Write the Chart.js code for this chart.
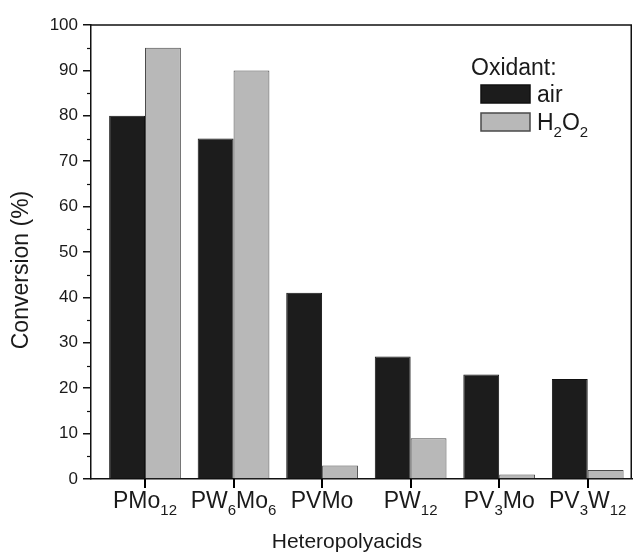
<!DOCTYPE html>
<html>
<head>
<meta charset="utf-8">
<script src="https://cdn.jsdelivr.net/npm/chart.js@4.4.0/dist/chart.umd.min.js"></script>
<style>
  html, body { margin: 0; padding: 0; background: #fff; }
  #wrap { width: 633px; height: 554px; }
</style>
</head>
<body>
<div id="wrap"><canvas id="chart"></canvas></div>
<script>
// Catalysts, each label split into [text, kind] pieces
const categories = [
  [["PMo", ""], ["12", "sub"]],
  [["PW", ""], ["6", "sub"], ["Mo", ""], ["6", "sub"]],
  [["PVMo", ""]],
  [["PW", ""], ["12", "sub"]],
  [["PV", ""], ["3", "sub"], ["Mo", ""]],
  [["PV", ""], ["3", "sub"], ["W", ""], ["12", "sub"]],
];
const airValues = [80, 75, 41, 27, 23, 22];
const h2o2Values = [95, 90, 3, 9, 1, 2];
const yTicksMajor = [0, 10, 20, 30, 40, 50, 60, 70, 80, 90, 100];
const yTicksMinor = [5, 15, 25, 35, 45, 55, 65, 75, 85, 95];
const xTitle = "Heteropolyacids";
const yTitle = "Conversion (%)";

const FONT = "'Liberation Sans', Arial, sans-serif";

// draws text pieces with subscripts
function drawRich(ctx, pieces, x, y, size, align) {
  const subSize = Math.round(size * 0.66);
  const widths = pieces.map(([t, k]) => {
    ctx.font = (k === "sub" ? subSize : size) + "px " + FONT;
    return ctx.measureText(t).width;
  });
  const total = widths.reduce((a, b) => a + b, 0);
  let cx = align === "left" ? x : x - total / 2;
  pieces.forEach(([t, k], i) => {
    ctx.font = (k === "sub" ? subSize : size) + "px " + FONT;
    ctx.fillText(t, cx, k === "sub" ? y + size * 0.3 : y);
    cx += widths[i];
  });
}

const extras = {
  id: "extras",
  afterDraw(chart) {
    const { ctx, chartArea } = chart;
    const x = chart.scales.x, y = chart.scales.y;
    ctx.save();
    ctx.fillStyle = "#1a1a1a";
    ctx.strokeStyle = "#111";
    ctx.textBaseline = "alphabetic";
    ctx.textAlign = "left";

    // minor y ticks
    ctx.lineWidth = 1.2;
    yTicksMinor.forEach(v => {
      const py = Math.round(y.getPixelForValue(v)) + 0.5;
      ctx.beginPath();
      ctx.moveTo(chartArea.left - 4, py);
      ctx.lineTo(chartArea.left, py);
      ctx.stroke();
    });

    // x tick marks, pointing down
    ctx.fillStyle = "#000";
    categories.forEach((c, i) => {
      const px = Math.round(x.getPixelForValue(i));
      ctx.fillRect(px - 1, chartArea.bottom, 2, 9);
    });
    ctx.fillStyle = "#1a1a1a";

    // frame top and right
    ctx.lineWidth = 1.5;
    ctx.beginPath();
    ctx.moveTo(chartArea.left, chartArea.top);
    ctx.lineTo(chartArea.right - 0.75, chartArea.top);
    ctx.lineTo(chartArea.right - 0.75, chartArea.bottom);
    ctx.stroke();

    // category labels
    categories.forEach((pieces, i) => {
      drawRich(ctx, pieces, x.getPixelForValue(i), 508, 23, "center");
    });

    // axis titles
    ctx.textAlign = "center";
    ctx.font = "21px " + FONT;
    ctx.fillText(xTitle, 347, 548);
    ctx.save();
    ctx.translate(28, 270);
    ctx.rotate(-Math.PI / 2);
    ctx.font = "23px " + FONT;
    ctx.fillText(yTitle, 0, 0);
    ctx.restore();
    ctx.textAlign = "left";

    // legend
    const ds = chart.data.datasets;
    ctx.font = "23px " + FONT;
    ctx.fillText("Oxidant:", 471, 75);
    [[ds[0], 85, [["air", ""]]], [ds[1], 113, [["H", ""], ["2", "sub"], ["O", ""], ["2", "sub"]]]]
      .forEach(([d, top, label]) => {
        ctx.fillStyle = d.backgroundColor;
        ctx.fillRect(481, top, 49, 18);
        ctx.strokeStyle = d.borderColor;
        ctx.lineWidth = 1.5;
        ctx.strokeRect(481, top, 49, 18);
        ctx.fillStyle = "#1a1a1a";
        drawRich(ctx, label, 537, top + 17, 23, "left");
      });
    ctx.restore();
  }
};

new Chart(document.getElementById("chart"), {
  type: "bar",
  data: {
    datasets: [
      {
        label: "air",
        data: airValues.map((v, i) => ({ x: i, y: v })),
        backgroundColor: "#1c1c1c",
        borderColor: "#111",
        borderWidth: 1,
      },
      {
        label: "H2O2",
        data: h2o2Values.map((v, i) => ({ x: i, y: v })),
        backgroundColor: "#b8b8b8",
        borderColor: "#4a4a4a",
        borderWidth: 1,
      },
    ],
  },
  options: {
    responsive: true,
    maintainAspectRatio: false,
    animation: false,
    categoryPercentage: 0.81,
    barPercentage: 1.0,
    layout: { padding: { top: 25, right: 1, left: 0, bottom: 0 } },
    plugins: { legend: { display: false }, tooltip: { enabled: false } },
    scales: {
      x: {
        type: "linear",
        offset: false,
        min: -0.61,
        max: 5.5,
        afterBuildTicks: s => { s.ticks = categories.map((c, i) => ({ value: i })); },
        afterFit: s => { s.height = 75; },
        ticks: { display: false },
        grid: { display: false },
        border: { display: true, color: "#111", width: 1.5 },
      },
      y: {
        min: 0,
        max: 100,
        afterBuildTicks: s => { s.ticks = yTicksMajor.map(v => ({ value: v })); },
        afterFit: s => { s.width = 91; },
        ticks: { color: "#1a1a1a", font: { family: FONT, size: 17 }, padding: 5 },
        grid: { drawOnChartArea: false, drawTicks: true, tickLength: 8, color: "#111", lineWidth: 1.5 },
        border: { display: true, color: "#111", width: 1.5 },
      },
    },
  },
  plugins: [extras],
});
</script>
</body>
</html>
